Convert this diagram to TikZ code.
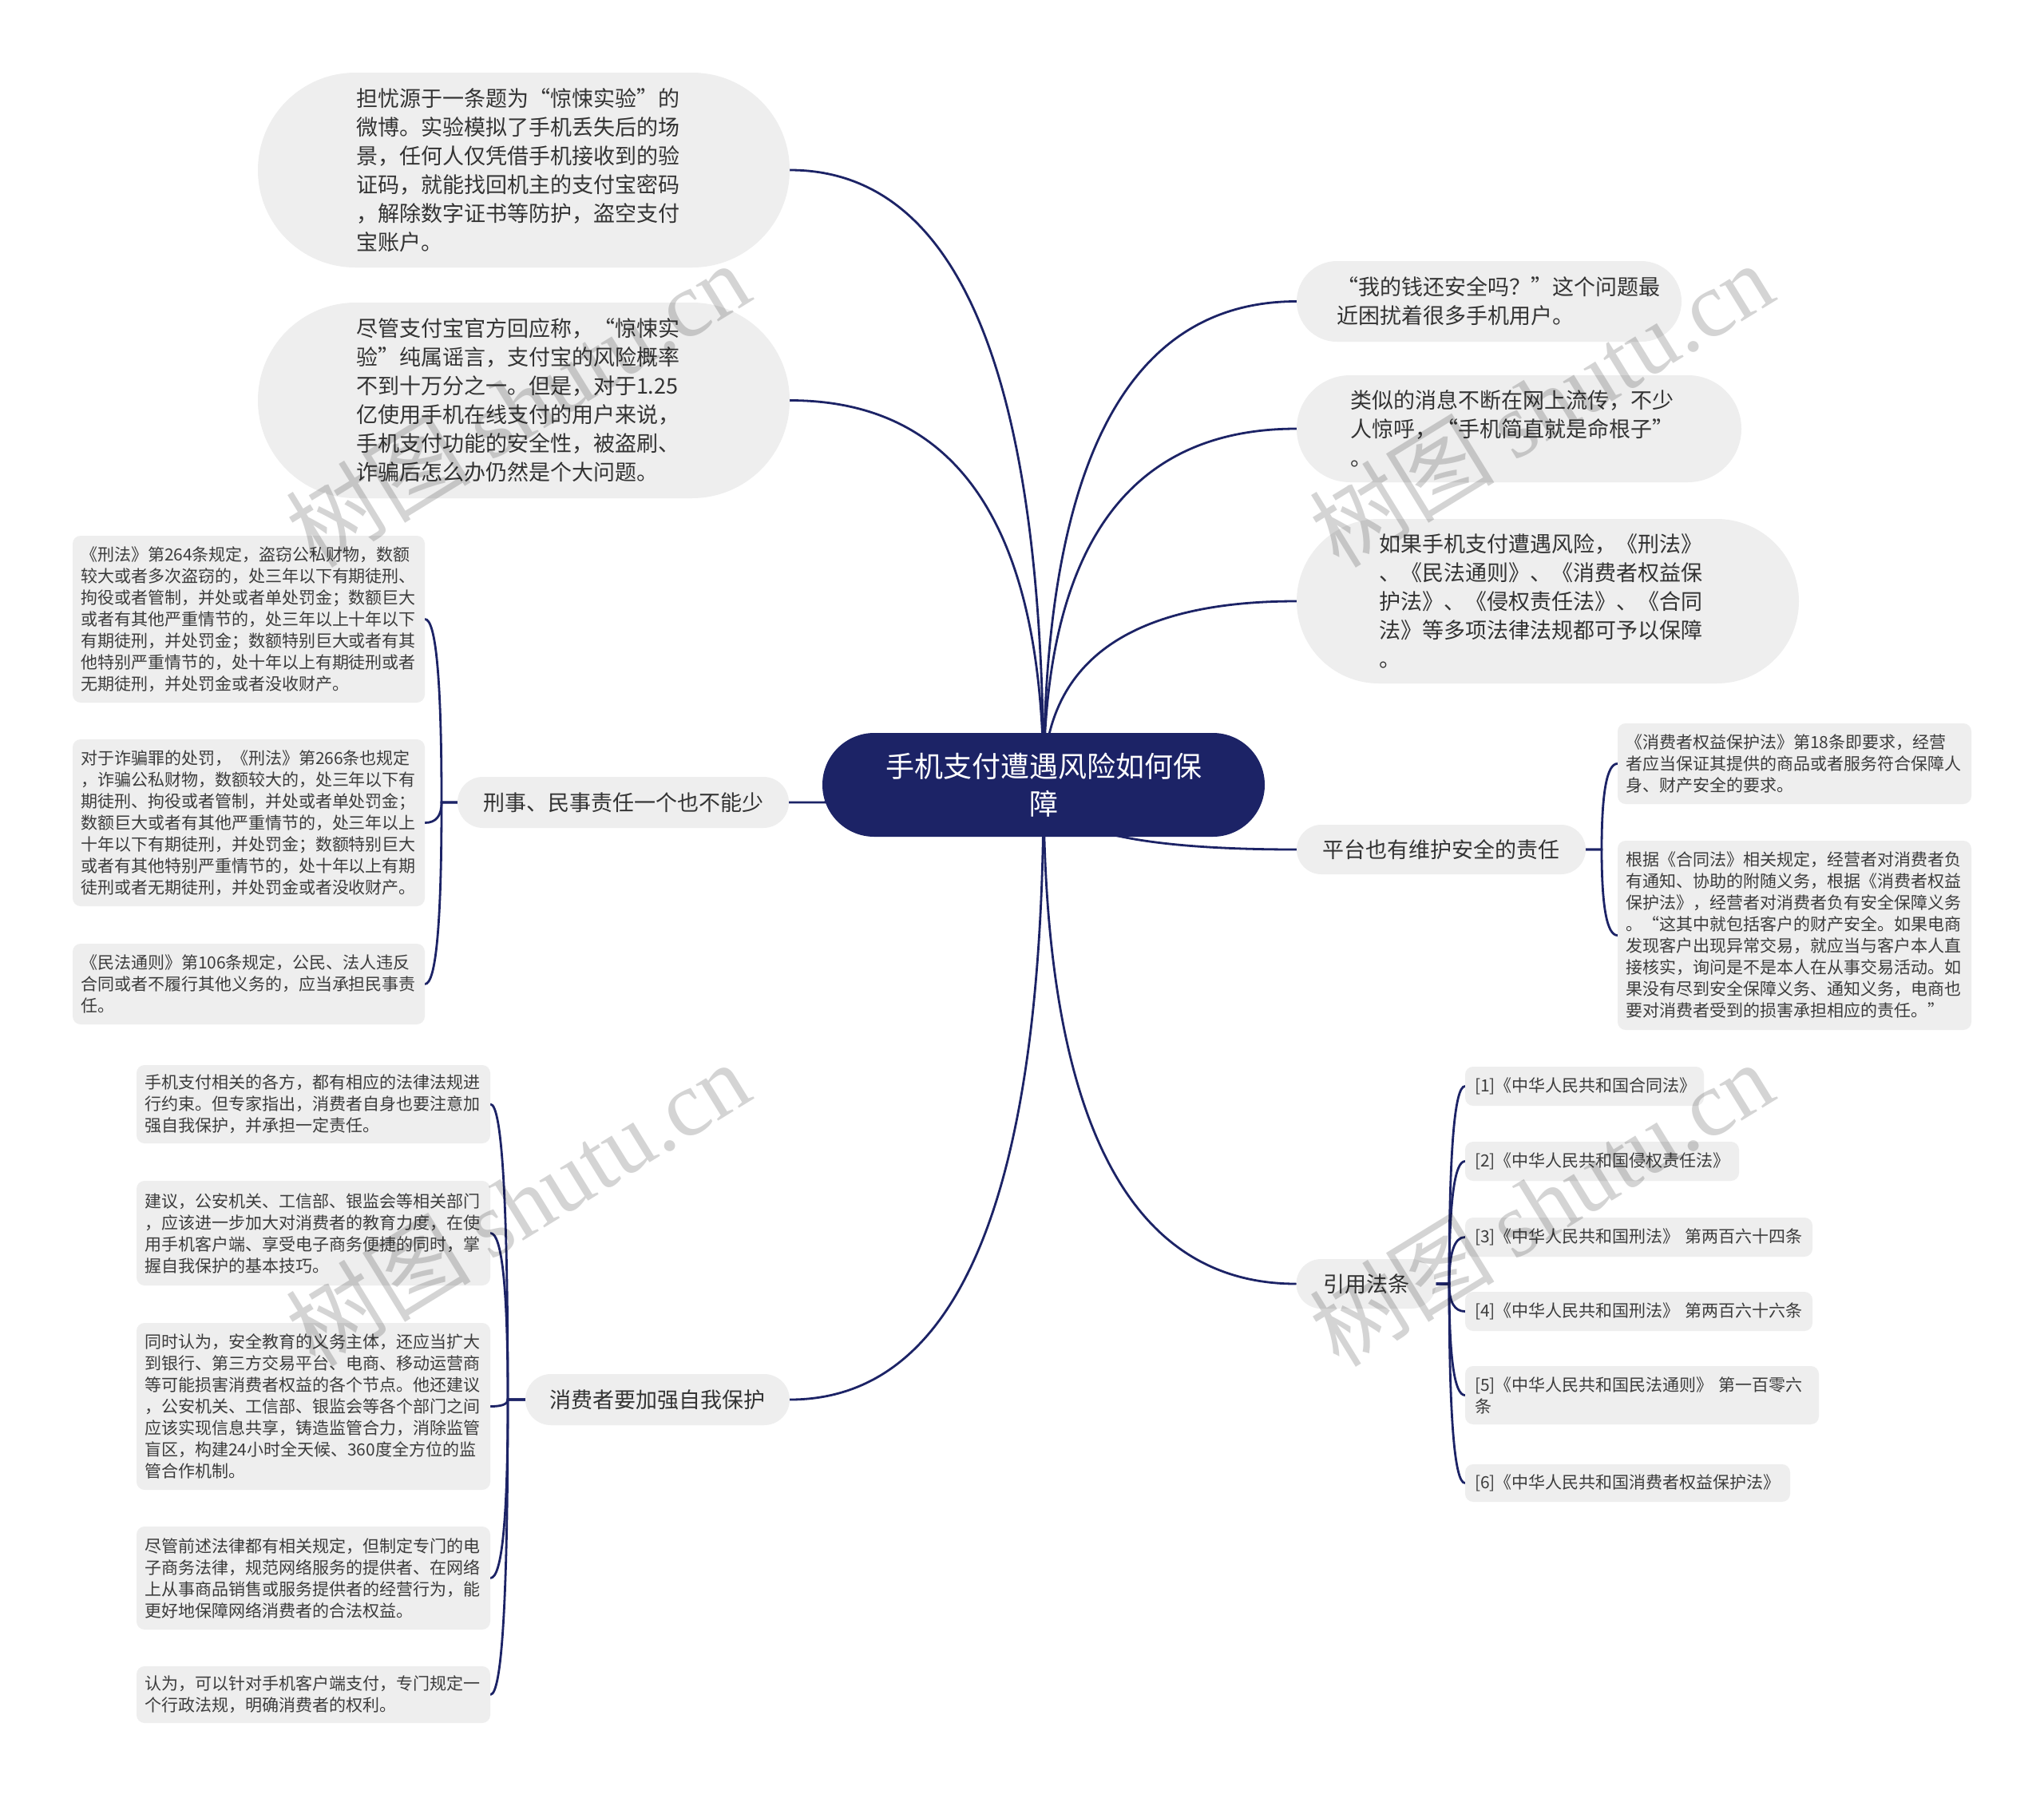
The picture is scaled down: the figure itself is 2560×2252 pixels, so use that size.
\documentclass[tikz,border=0pt]{standalone}
\usepackage{fontspec}
\setmainfont{Noto Sans CJK SC}
\newfontfamily\wmfont{Liberation Serif}
\usetikzlibrary{calc,shapes.misc}
\definecolor{navy}{HTML}{1C2366}
\definecolor{boxgray}{HTML}{EEEEEE}
\definecolor{txt}{HTML}{333333}
\definecolor{txtb}{HTML}{3C3C3C}
\pgfdeclarelayer{bg}
\pgfsetlayers{bg,main}
\newcommand\mainlink[2]{\draw[link] (R.center) .. controls ($(R.center)!0.6667!(R.center |- #1.#2)$) and ($(#1.#2)!0.6667!(R.center |- #1.#2)$) .. (#1.#2);}
\newcommand\brlink[3]{\draw[link] (#1) -- (#2 |- #1) .. controls ($(#2 |- #1)!0.6667!(#2 |- #3)$) and ($(#3)!0.6667!(#2 |- #3)$) .. (#3);}
\tikzset{
  link/.style={draw=navy, line width=2.8, line cap=round},
  rootbox/.style={rounded rectangle, fill=navy, inner sep=0, text=white, align=center,
    font=\fontsize{36}{47}\selectfont},
  bubble/.style={rounded rectangle, fill=boxgray, inner sep=0, text=txt, align=left,
    font=\fontsize{27}{36}\selectfont},
  topic/.style={rounded rectangle, fill=boxgray, inner sep=0, text=txt,
    font=\fontsize{27}{34}\selectfont},
  note/.style={rectangle, rounded corners=10, fill=boxgray, inner sep=0, text=txtb, align=left,
    font=\fontsize{21}{27}\selectfont},
  wm/.style={text=black, opacity=0.17, font=\fontsize{116}{116}\selectfont},
}
\begin{document}
\begin{tikzpicture}[x=1pt,y=-1pt]
\useasboundingbox (0,0) rectangle (2560,2252);

% root
\node[rootbox, minimum width=554, minimum height=130] (R) at (1307,983) {手机支付遭遇风险如何保\\障};

% bubbles
\node[bubble, minimum width=666, minimum height=244, text width=420] (b1) at (656,213)
 {担忧源于一条题为“惊悚实验”的\\微博。实验模拟了手机丢失后的场\\景，任何人仅凭借手机接收到的验\\证码，就能找回机主的支付宝密码\\，解除数字证书等防护，盗空支付\\宝账户。};
\node[bubble, minimum width=666, minimum height=245, text width=420] (b2) at (656,501.5)
 {尽管支付宝官方回应称，“惊悚实\\验”纯属谣言，支付宝的风险概率\\不到十万分之一。但是，对于1.25\\亿使用手机在线支付的用户来说，\\手机支付功能的安全性，被盗刷、\\诈骗后怎么办仍然是个大问题。};
\node[bubble, minimum width=482, minimum height=101, text width=382] (b3) at (1865,377.5)
 {“我的钱还安全吗？”这个问题最\\近困扰着很多手机用户。};
\node[bubble, minimum width=557, minimum height=134, text width=423] (b4) at (1902.5,537)
 {类似的消息不断在网上流传，不少\\人惊呼，“手机简直就是命根子”\\。};
\node[bubble, minimum width=629, minimum height=206, text width=423] (b5) at (1938.5,753)
 {如果手机支付遭遇风险，《刑法》\\、《民法通则》、《消费者权益保\\护法》、《侵权责任法》、《合同\\法》等多项法律法规都可予以保障\\。};

% topics
\node[topic, minimum width=415, minimum height=64] (xs) at (780.5,1005) {刑事、民事责任一个也不能少};
\node[topic, minimum width=331, minimum height=64] (xf) at (823.5,1753) {消费者要加强自我保护};
\node[topic, minimum width=362, minimum height=62] (pt) at (1805,1064) {平台也有维护安全的责任};
\node[topic, minimum width=175, minimum height=62] (yy) at (1711,1608) {引用法条};

% notes of xs
\node[note, minimum width=441, minimum height=209, text width=421] (n1) at (311.5,775.5)
 {《刑法》第264条规定，盗窃公私财物，数额\\较大或者多次盗窃的，处三年以下有期徒刑、\\拘役或者管制，并处或者单处罚金；数额巨大\\或者有其他严重情节的，处三年以上十年以下\\有期徒刑，并处罚金；数额特别巨大或者有其\\他特别严重情节的，处十年以上有期徒刑或者\\无期徒刑，并处罚金或者没收财产。};
\node[note, minimum width=441, minimum height=209, text width=421] (n2) at (311.5,1030.5)
 {对于诈骗罪的处罚，《刑法》第266条也规定\\，诈骗公私财物，数额较大的，处三年以下有\\期徒刑、拘役或者管制，并处或者单处罚金；\\数额巨大或者有其他严重情节的，处三年以上\\十年以下有期徒刑，并处罚金；数额特别巨大\\或者有其他特别严重情节的，处十年以上有期\\徒刑或者无期徒刑，并处罚金或者没收财产。};
\node[note, minimum width=441, minimum height=101, text width=421] (n3) at (311.5,1232.5)
 {《民法通则》第106条规定，公民、法人违反\\合同或者不履行其他义务的，应当承担民事责\\任。};

% notes of xf
\node[note, minimum width=443, minimum height=98, text width=423] (m1) at (392.5,1383)
 {手机支付相关的各方，都有相应的法律法规进\\行约束。但专家指出，消费者自身也要注意加\\强自我保护，并承担一定责任。};
\node[note, minimum width=443, minimum height=131, text width=423] (m2) at (392.5,1544.5)
 {建议，公安机关、工信部、银监会等相关部门\\，应该进一步加大对消费者的教育力度，在使\\用手机客户端、享受电子商务便捷的同时，掌\\握自我保护的基本技巧。};
\node[note, minimum width=443, minimum height=209, text width=423] (m3) at (392.5,1761.5)
 {同时认为，安全教育的义务主体，还应当扩大\\到银行、第三方交易平台、电商、移动运营商\\等可能损害消费者权益的各个节点。他还建议\\，公安机关、工信部、银监会等各个部门之间\\应该实现信息共享，铸造监管合力，消除监管\\盲区，构建24小时全天候、360度全方位的监\\管合作机制。};
\node[note, minimum width=443, minimum height=129, text width=423] (m4) at (392.5,1976.5)
 {尽管前述法律都有相关规定，但制定专门的电\\子商务法律，规范网络服务的提供者、在网络\\上从事商品销售或服务提供者的经营行为，能\\更好地保障网络消费者的合法权益。};
\node[note, minimum width=443, minimum height=71, text width=423] (m5) at (392.5,2122.5)
 {认为，可以针对手机客户端支付，专门规定一\\个行政法规，明确消费者的权利。};

% notes of pt
\node[note, minimum width=443, minimum height=101, text width=423] (p1) at (2247.5,956.5)
 {《消费者权益保护法》第18条即要求，经营\\者应当保证其提供的商品或者服务符合保障人\\身、财产安全的要求。};
\node[note, minimum width=443, minimum height=237, text width=423] (p2) at (2247.5,1171.5)
 {根据《合同法》相关规定，经营者对消费者负\\有通知、协助的附随义务，根据《消费者权益\\保护法》，经营者对消费者负有安全保障义务\\。“这其中就包括客户的财产安全。如果电商\\发现客户出现异常交易，就应当与客户本人直\\接核实，询问是不是本人在从事交易活动。如\\果没有尽到安全保障义务、通知义务，电商也\\要对消费者受到的损害承担相应的责任。”};

% references
\node[note, minimum width=299, minimum height=49, text width=275] (r1) at (1984.5,1360.5) {[1]《中华人民共和国合同法》};
\node[note, minimum width=343, minimum height=49, text width=319] (r2) at (2006.5,1454.5) {[2]《中华人民共和国侵权责任法》};
\node[note, minimum width=435, minimum height=49, text width=411] (r3) at (2052.5,1549.5) {[3]《中华人民共和国刑法》 第两百六十四条};
\node[note, minimum width=435, minimum height=49, text width=411] (r4) at (2052.5,1642.5) {[4]《中华人民共和国刑法》 第两百六十六条};
\node[note, minimum width=443, minimum height=73, text width=419] (r5) at (2056.5,1747.5) {[5]《中华人民共和国民法通则》 第一百零六\\条};
\node[note, minimum width=407, minimum height=47, text width=383] (r6) at (2038.5,1857.5) {[6]《中华人民共和国消费者权益保护法》};

% junctions
\coordinate (jA) at (553,0);
\coordinate (jB) at (636,0);
\coordinate (jC) at (2006,0);
\coordinate (jD) at (1815,0);

\begin{pgfonlayer}{bg}
\fill[white] (0,0) rectangle (2560,2252);
\mainlink{b1}{east}
\mainlink{b2}{east}
\mainlink{b3}{west}
\mainlink{b4}{west}
\mainlink{b5}{west}
\mainlink{xs}{east}
\mainlink{xf}{east}
\mainlink{pt}{west}
\mainlink{yy}{west}
\brlink{xs.west}{jA}{n1.east}
\brlink{xs.west}{jA}{n2.east}
\brlink{xs.west}{jA}{n3.east}
\brlink{xf.west}{jB}{m1.east}
\brlink{xf.west}{jB}{m2.east}
\brlink{xf.west}{jB}{m3.east}
\brlink{xf.west}{jB}{m4.east}
\brlink{xf.west}{jB}{m5.east}
\brlink{pt.east}{jC}{p1.west}
\brlink{pt.east}{jC}{p2.west}
\brlink{yy.east}{jD}{r1.west}
\brlink{yy.east}{jD}{r2.west}
\brlink{yy.east}{jD}{r3.west}
\brlink{yy.east}{jD}{r4.west}
\brlink{yy.east}{jD}{r5.west}
\brlink{yy.east}{jD}{r6.west}
\end{pgfonlayer}

% watermarks
\node[wm, rotate=31.6] (wm1) at (648,506) {树图 {\wmfont shutu.cn}};
\node[wm, rotate=31.6] (wm2) at (1930,506) {树图 {\wmfont shutu.cn}};
\node[wm, rotate=31.6] (wm3) at (648,1507) {树图 {\wmfont shutu.cn}};
\node[wm, rotate=31.6] (wm4) at (1930,1507) {树图 {\wmfont shutu.cn}};
\end{tikzpicture}
\end{document}
